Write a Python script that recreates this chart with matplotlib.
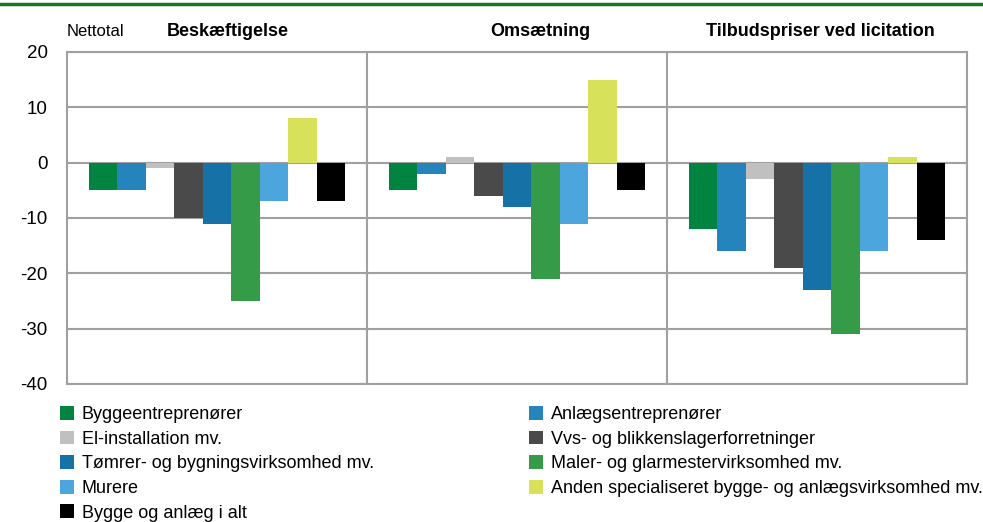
import numpy as np
import matplotlib.pyplot as plt
from matplotlib.lines import Line2D
from matplotlib.patches import Patch

plt.rcParams["font.family"] = ["Liberation Sans", "DejaVu Sans"]
plt.rcParams["axes.unicode_minus"] = False

groups = ["Beskæftigelse", "Omsætning", "Tilbudspriser ved licitation"]
series = [
    "Byggeentreprenører",
    "Anlægsentreprenører",
    "El-installation mv.",
    "Vvs- og blikkenslagerforretninger",
    "Tømrer- og bygningsvirksomhed mv.",
    "Maler- og glarmestervirksomhed mv.",
    "Murere",
    "Anden specialiseret bygge- og anlægsvirksomhed mv.",
    "Bygge og anlæg i alt",
]
colors = ["#00843f", "#2484bb", "#c0c0c0", "#4a4a4a", "#1571a6",
          "#369b49", "#4ca5dc", "#d7e15a", "#000000"]

beskaeftigelse = [-5, -5, -1, -10, -11, -25, -7, 8, -7]
omsaetning = [-5, -2, 1, -6, -8, -21, -11, 15, -5]
tilbudspriser = [-12, -16, -3, -19, -23, -31, -16, 1, -14]
values = np.array([beskaeftigelse, omsaetning, tilbudspriser])

W, H = 983, 522
fig = plt.figure(figsize=(W / 100, H / 100), dpi=100)
ax = fig.add_axes([67 / W, 1 - 384 / H, 900 / W, 332 / H])

bar_w = 0.095
offsets = (np.arange(len(series)) - (len(series) - 1) / 2) * bar_w
handles = []
for i, name in enumerate(series):
    x = np.arange(len(groups)) + 0.5 + offsets[i]
    ax.bar(x, values[:, i], width=bar_w, color=colors[i], zorder=3)
    handles.append(Patch(facecolor=colors[i], label=name))

ax.set_xlim(0, 3)
ax.set_ylim(-40, 20)
ax.set_yticks(range(-40, 21, 10))
ax.set_xticks([])
ax.grid(axis="y", color="#a0a0a0", linewidth=1.5, zorder=0)
for xv in [1, 2]:
    ax.axvline(xv, color="#a0a0a0", linewidth=1.5, zorder=1)
for sp in ax.spines.values():
    sp.set_color("#a0a0a0")
    sp.set_linewidth(1.5)
ax.tick_params(axis="y", length=0, pad=14, labelsize=13.5)

fig.text(67 / W, 1 - 31 / H, "Nettotal", fontsize=12, va="center", ha="left")
title_x = [228, 540, 820]
for g, tx in zip(groups, title_x):
    fig.text(tx / W, 1 - 31 / H, g, fontsize=13, fontweight="bold",
             va="center", ha="center")

fig.add_artist(Line2D([0, 1], [1 - 4 / H, 1 - 4 / H], color="#107a1c",
                      linewidth=2.5, transform=fig.transFigure))

leg_kw = dict(frameon=False, fontsize=13, handlelength=0.8, handleheight=0.8,
              handletextpad=0.4, labelspacing=0.41, borderaxespad=0,
              borderpad=0)
left = [handles[i] for i in [0, 2, 4, 6, 8]]
right = [handles[i] for i in [1, 3, 5, 7]]
fig.legend(handles=left, loc="upper left",
           bbox_to_anchor=(60 / W, 1 - 406 / H), **leg_kw)
fig.legend(handles=right, loc="upper left",
           bbox_to_anchor=(529 / W, 1 - 406 / H), **leg_kw)

fig.savefig("out.png", dpi=100)
